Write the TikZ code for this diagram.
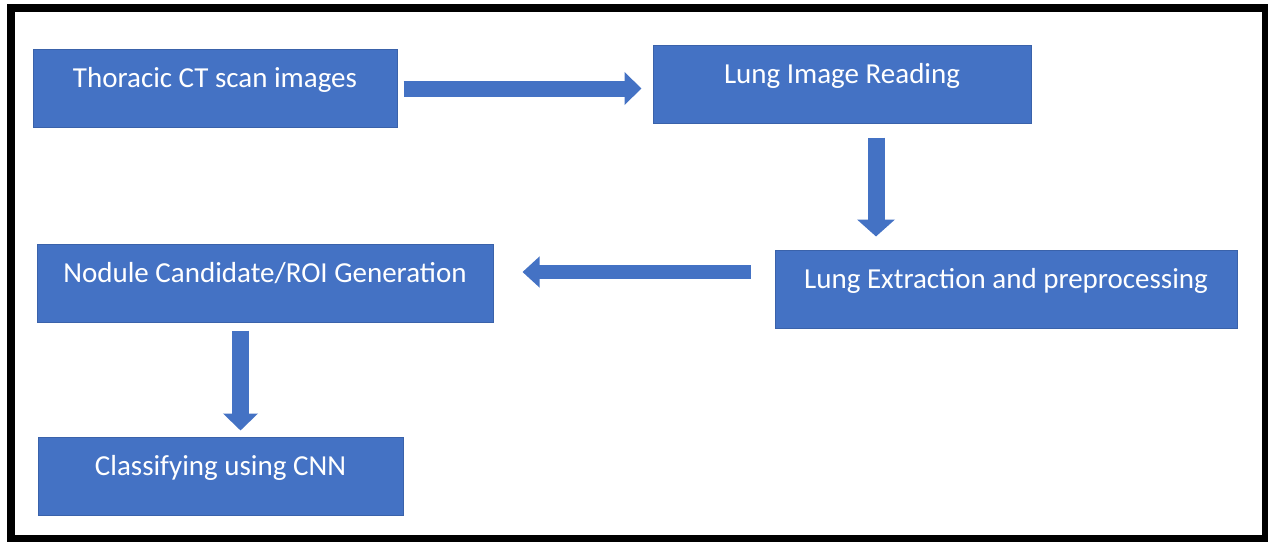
\documentclass[tikz,border=0pt]{standalone}
\usepackage{fontspec}
\setmainfont{Carlito}
\usetikzlibrary{arrows.meta}
\definecolor{boxblue}{HTML}{4472C4}
\definecolor{boxedge}{HTML}{3A62AA}
\tikzset{
  stage/.style={rectangle, fill=boxblue, draw=boxedge, line width=1pt,
    inner xsep=0pt, inner ysep=0pt, minimum height=78pt,
    text=white, font=\fontsize{29}{34}\selectfont,
    text height=38pt, text depth=40pt},
  flow/.style={draw=boxblue, line width=#1},
  tipA/.style={-{Triangle[width=#1, length=17pt]}},
}
\begin{document}
\begin{tikzpicture}[x=1pt, y=-1pt]
\useasboundingbox (0,0) rectangle (1268,541);
% outer frame
\draw[line width=8pt, black] (11,7.5) rectangle (1266,539);

% process stages
\node[stage, minimum width=364pt] (scan)     at (215,88.5)  {Thoracic CT scan images};
\node[stage, minimum width=378pt] (reading)  at (842,84)    {Lung Image Reading};
\node[stage, minimum width=462pt] (extract)  at (1006,289)  {Lung Extraction and preprocessing};
\node[stage, minimum width=456pt] (roi)      at (265,283)   {Nodule Candidate/ROI Generation};
\node[stage, minimum width=365pt] (classify) at (220.5,476) {Classifying using CNN};

% block arrows between stages
\draw[flow=16pt, tipA=32pt, shorten <=6pt, shorten >=11pt]
  (scan.east) -- (scan.east -| reading.west);
\draw[flow=17pt, tipA=37pt, shorten <=14pt, shorten >=13pt]
  ([xshift=34pt]reading.south) -- ([xshift=34pt]reading.south |- extract.north);
\coordinate (a3s) at ([yshift=11pt]roi.east -| extract.west);
\draw[flow=14pt, tipA=30pt, shorten <=24pt, shorten >=29pt]
  (a3s) -- (a3s -| roi.east);
\draw[flow=17pt, tipA=34pt, shorten <=8pt, shorten >=6pt]
  ([xshift=-24.5pt]roi.south) -- ([xshift=-24.5pt]roi.south |- classify.north);
\end{tikzpicture}
\end{document}
